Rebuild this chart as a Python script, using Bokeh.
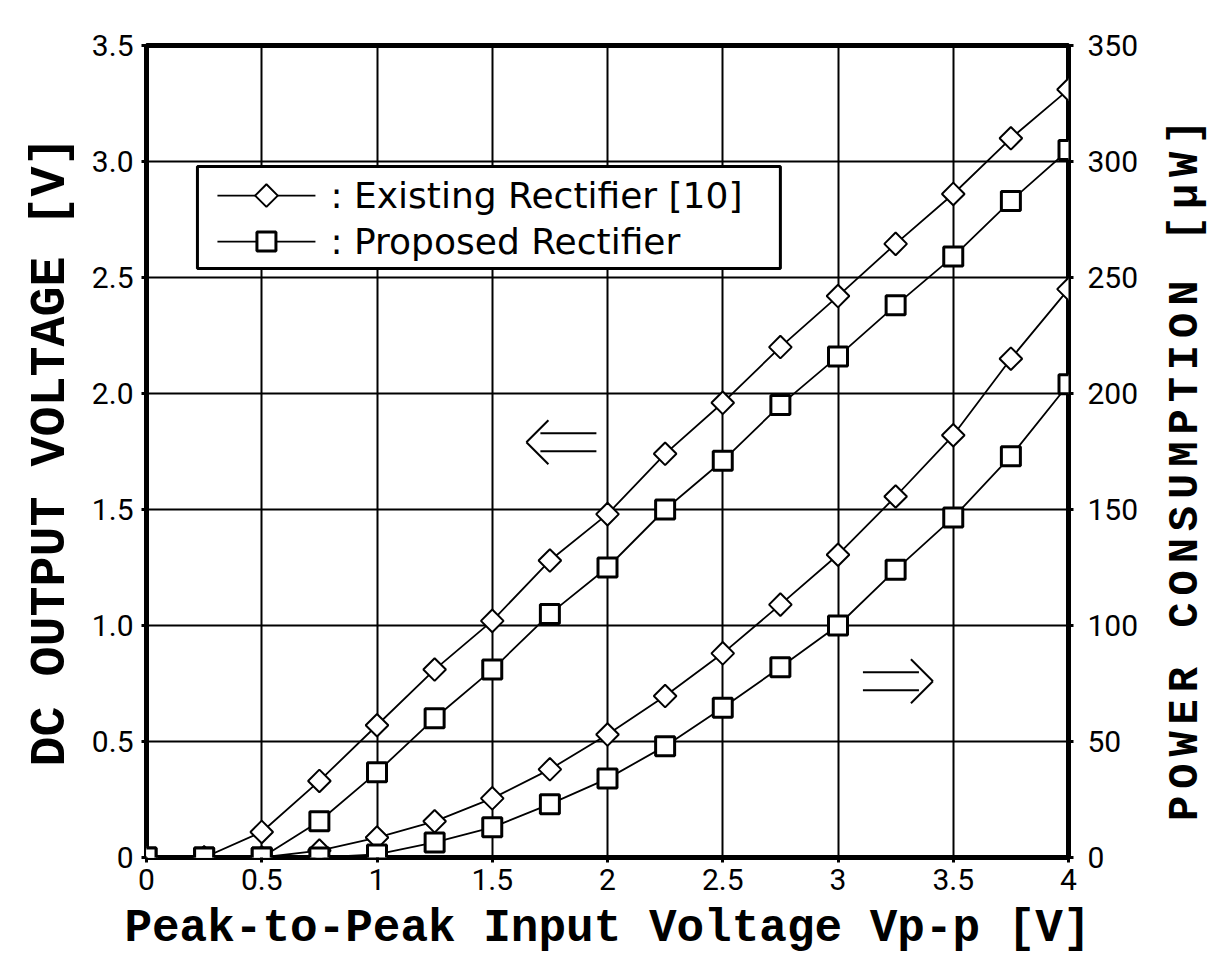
import math
from bokeh.plotting import figure
from bokeh.layouts import row
from bokeh.models import (Range1d, LinearAxis, FixedTicker, ColumnDataSource,
                          CustomJSTickFormatter, Div)
from bokeh.core.properties import value
from bokeh.embed import file_html
from bokeh.resources import INLINE

# ---------------- data ----------------
vpp = [0, 0.25, 0.5, 0.75, 1.0, 1.25, 1.5, 1.75, 2.0, 2.25, 2.5, 2.75, 3.0, 3.25, 3.5, 3.75, 4.0]
existing_vout = [0, 0, 0.11, 0.33, 0.57, 0.81, 1.02, 1.28, 1.48, 1.74, 1.96, 2.20, 2.42, 2.645, 2.86, 3.10, 3.31]
proposed_vout = [0, 0, 0, 0.156, 0.367, 0.60, 0.81, 1.05, 1.25, 1.50, 1.71, 1.95, 2.16, 2.38, 2.59, 2.83, 3.05]
existing_power = [0, 0, 0, 3.0, 8.6, 15.6, 25.5, 38, 53, 69.6, 88, 109, 130.5, 155.6, 182, 215, 245]
proposed_power = [0, 0, 0, 0, 1.3, 6.5, 13, 23, 34, 48, 64.5, 82, 100, 124, 146.5, 173, 204]

x_ticks = [0, 0.5, 1, 1.5, 2, 2.5, 3, 3.5, 4]
v_ticks = [0, 0.5, 1.0, 1.5, 2.0, 2.5, 3.0, 3.5]
p_ticks = [0, 50, 100, 150, 200, 250, 300, 350]

series_labels = [": Existing Rectifier [10]", ": Proposed Rectifier"]
x_title = "Peak-to-Peak Input Voltage Vp-p [V]"
left_title = "DC OUTPUT VOLTAGE [V]"
right_title = "POWER CONSUMPTION [\u03bcW]"

# arrow annotations: centre (data coords on the voltage axis) and direction
arrow_left = (1.80, 1.79, -1)
arrow_right = (3.26, 0.76, +1)

# legend box (data coords on the voltage axis): left, right, bottom, top
legend_box = (0.221, 2.75, 2.539, 2.978)
legend_rows_y = [2.853, 2.655]

TICK_FONT = "Roboto"
LEGEND_FONT = "DejaVu Sans"
TITLE_FONT = "Liberation Mono"

X_MIN, X_MAX, V_MAX, P_MAX = 0, 4, 3.5, 350

src = ColumnDataSource(dict(x=vpp, ev=existing_vout, pv=proposed_vout,
                            ep=existing_power, pp=proposed_power))

W, H = 1150, 976          # plot part; the right-hand title column fills the rest
BL, BR, BT, BB = 146, 82, 45, 119
p = figure(width=W, height=H, x_range=Range1d(X_MIN, X_MAX), y_range=Range1d(0, V_MAX),
           output_backend="svg", toolbar_location=None,
           min_border_left=BL, min_border_right=BR, min_border_top=BT, min_border_bottom=BB,
           background_fill_color="white", border_fill_color="white")
p.extra_y_ranges = {"power": Range1d(0, P_MAX)}

# pixel -> data scale (approx.) for sizing the annotation strokes
XS = (W - BL - BR) / (X_MAX - X_MIN)
YS = (H - BT - BB) / V_MAX

# frame & grid
p.outline_line_color = "black"
p.outline_line_width = 5
p.xgrid.ticker = FixedTicker(ticks=x_ticks)
p.ygrid.ticker = FixedTicker(ticks=v_ticks)
for g in (p.xgrid, p.ygrid):
    g.grid_line_color = "black"
    g.grid_line_width = 2
    g.grid_line_alpha = 1.0

# axes
xax = p.xaxis[0]
yax = p.yaxis[0]
xax.ticker = FixedTicker(ticks=x_ticks)
xax.formatter = CustomJSTickFormatter(code="return tick.toString();")
yax.ticker = FixedTicker(ticks=v_ticks)
yax.formatter = CustomJSTickFormatter(code="return tick == 0 ? '0' : tick.toFixed(1);")

right = LinearAxis(y_range_name="power", ticker=FixedTicker(ticks=p_ticks))
p.add_layout(right, "right")

xax.axis_label = x_title
yax.axis_label = left_title

for ax in (xax, yax, right):
    ax.axis_line_color = None
    ax.major_tick_out = 5
    ax.major_tick_in = 0
    ax.major_tick_line_width = 3
    ax.major_tick_line_color = "black"
    ax.minor_tick_line_color = None
    ax.major_label_text_font = TICK_FONT
    ax.major_label_text_font_size = "30px"
    ax.major_label_text_color = "black"
    ax.axis_label_text_font = TITLE_FONT
    ax.axis_label_text_font_style = "bold"
    ax.axis_label_text_color = "black"

xax.major_label_standoff = 6
xax.axis_label_text_font_size = "46px"
xax.axis_label_standoff = 10
yax.major_label_standoff = 8
yax.axis_label_text_font_size = "50px"
yax.axis_label_standoff = 10
right.major_label_standoff = 14

# series
line_kw = dict(line_color="black", line_width=1.8)
dia_kw = dict(marker="square", angle=math.pi / 4, size=16, fill_color="white",
              line_color="black", line_width=2)
sq_kw = dict(marker="square", size=19, fill_color="white", line_color="black", line_width=3)

p.line("x", "ev", source=src, **line_kw)
p.line("x", "pv", source=src, **line_kw)
p.line("x", "ep", source=src, y_range_name="power", **line_kw)
p.line("x", "pp", source=src, y_range_name="power", **line_kw)
p.scatter("x", "ev", source=src, **dia_kw)
p.scatter("x", "ep", source=src, y_range_name="power", **dia_kw)
p.scatter("x", "pv", source=src, **sq_kw)
p.scatter("x", "pp", source=src, y_range_name="power", **sq_kw)

# double arrows (⇐ / ⇒) drawn as thin strokes
def double_arrow(cx, cy, d):
    half, gap, head_l, head_h, inset = 35, 9, 22, 22, 14
    tip = cx + d * half / XS
    tail = cx - d * half / XS
    shaft_end = cx + d * (half - inset) / XS
    back = tip - d * head_l / XS
    p.segment(x0=[tail, tail, tip, tip],
              y0=[cy + gap / YS, cy - gap / YS, cy, cy],
              x1=[shaft_end, shaft_end, back, back],
              y1=[cy + gap / YS, cy - gap / YS, cy + head_h / YS, cy - head_h / YS],
              line_color="black", line_width=2)

double_arrow(*arrow_left)
double_arrow(*arrow_right)

# legend (box, sample line + marker, label)
lx0, lx1, ly0, ly1 = legend_box
p.quad(left=[lx0], right=[lx1], bottom=[ly0], top=[ly1], fill_color="white",
       line_color="black", line_width=3)
seg_x0 = lx0 + 20 / XS
seg_x1 = lx0 + 118 / XS
mark_x = (seg_x0 + seg_x1) / 2
txt_x = lx0 + 133 / XS
p.segment(x0=[seg_x0] * 2, x1=[seg_x1] * 2, y0=legend_rows_y, y1=legend_rows_y, **line_kw)
p.scatter(x=[mark_x], y=[legend_rows_y[0]], **dia_kw)
p.scatter(x=[mark_x], y=[legend_rows_y[1]], **sq_kw)
p.text(x=[txt_x] * 2, y=legend_rows_y, text=series_labels, text_align="left",
       text_baseline="middle", text_font=value(LEGEND_FONT), text_font_size="36px",
       text_color="black")

# right-hand axis title, reading bottom-to-top like the left one
title_div = Div(
    text=('<div style="writing-mode: vertical-rl; transform: rotate(180deg); '
          "font-family: 'Liberation Mono', monospace; font-weight: bold; font-size: 42px; "
          'letter-spacing: 7px; line-height: 48px; height: 740px; width: 48px; '
          'margin-top: 92px; margin-left: 7px; '
          'text-align: center; white-space: nowrap; color: black;">'
          + right_title + '</div>'),
    width=1208 - W, height=H)

layout = row(p, title_div, spacing=0)
open("out.html", "w").write(file_html(layout, INLINE))
